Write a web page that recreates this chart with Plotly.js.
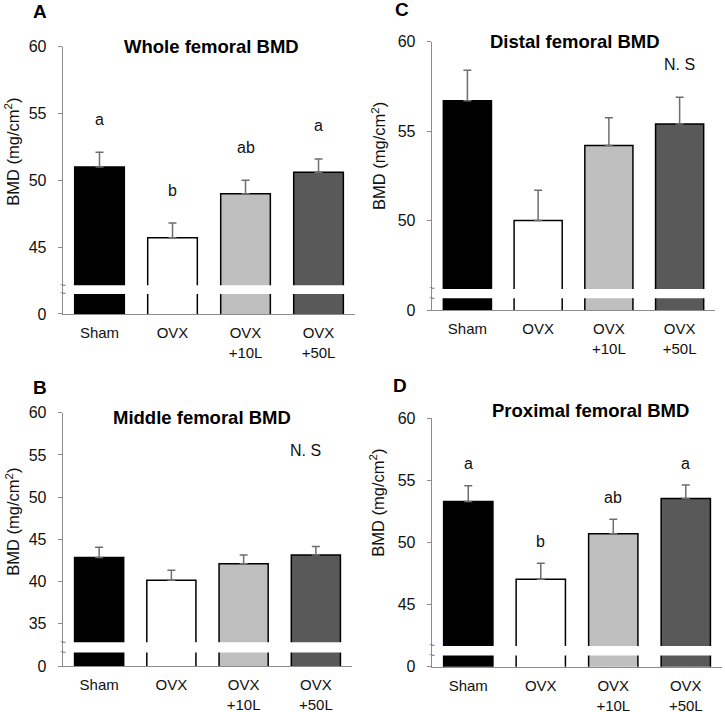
<!DOCTYPE html>
<html>
<head>
<meta charset="utf-8">
<script src="https://cdn.plot.ly/plotly-3.0.1.min.js"></script>
<style>
  body { margin: 0; background: #fff; }
  #chart { width: 725px; height: 712px; }
</style>
</head>
<body>
<div id="chart"></div>
<script>
// ==========================================
// values (mg/cm2, mean and SE)
// ==========================================
const groups = ['Sham', 'OVX', 'OVX<br>+10L', 'OVX<br>+50L']
const barColors = ['#000000', '#ffffff', '#bfbfbf', '#595959']

const wholeMean = [51.0, 45.7, 49.0, 50.6]
const wholeSE = [1.1, 1.1, 1.0, 1.0]
const wholeLetters = ['a', 'b', 'ab', 'a']

const distalMean = [56.7, 50.0, 54.2, 55.4]
const distalSE = [1.7, 1.7, 1.55, 1.5]

const middleMean = [42.85, 40.15, 42.1, 43.15]
const middleSE = [1.2, 1.2, 1.05, 1.0]

const proximalMean = [53.3, 47.05, 50.7, 53.55]
const proximalSE = [1.27, 1.29, 1.18, 1.07]
const proximalLetters = ['a', 'b', 'ab', 'a']

// ==========================================
// panel setup
// ==========================================
const panels = [
	{ tag: 'A', title: 'Whole femoral BMD', mean: wholeMean, se: wholeSE, letters: wholeLetters,
	  floor: 40, ticks: [45, 50, 55, 60], brk: [41.5, 42.15],
	  xd: [0.0869, 0.4897], yd: [0.559, 0.9344], titleX: 0.51, titleY: 1.0,
	  tagPos: [-0.079, 1.131], yTitlePos: [-0.175, 0.607], letterShift: 33 },
	{ tag: 'C', title: 'Distal femoral BMD', mean: distalMean, se: distalSE, ns: true,
	  floor: 45, ticks: [50, 55, 60], brk: [45.66, 46.18],
	  xd: [0.5959, 0.9862], yd: [0.5646, 0.9414], titleX: 0.505, titleY: 1.0,
	  tagPos: [-0.106, 1.119], yTitlePos: [-0.19, 0.575], nsY: 58.7, nsShift: 0 },
	{ tag: 'B', title: 'Middle femoral BMD', mean: middleMean, se: middleSE, ns: true,
	  floor: 30, ticks: [35, 40, 45, 50, 55, 60], brk: [31.6, 32.8],
	  xd: [0.0869, 0.4855], yd: [0.0646, 0.4204], titleX: 0.48, titleY: 0.98,
	  tagPos: [-0.08, 1.099], yTitlePos: [-0.176, 0.57], nsY: 55.5, nsShift: -10 },
	{ tag: 'D', title: 'Proximal femoral BMD', mean: proximalMean, se: proximalSE, letters: proximalLetters,
	  floor: 40, ticks: [45, 50, 55, 60], brk: [40.9, 41.67],
	  xd: [0.5959, 0.9959], yd: [0.0636, 0.4125], titleX: 0.545, titleY: 1.03,
	  tagPos: [-0.11, 1.132], yTitlePos: [-0.19, 0.66], letterShift: 22 }
]

const fontFamily = 'Liberation Sans, Arial, sans-serif'
const tickFont = { family: fontFamily, size: 16, color: '#111111' }
const catFont = { family: fontFamily, size: 15, color: '#111111' }
const axisGray = '#8c8c8c'

const data = []
const annotations = []
const shapes = []
const layout = {
	width: 725,
	height: 712,
	margin: { l: 0, r: 0, t: 0, b: 0 },
	paper_bgcolor: '#ffffff',
	plot_bgcolor: '#ffffff',
	showlegend: false,
	font: tickFont
}

panels.forEach((p, i) => {
	const n = i === 0 ? '' : String(i + 1)
	const xa = 'x' + n
	const ya = 'y' + n

	data.push({
		type: 'bar',
		x: groups,
		y: p.mean,
		xaxis: xa,
		yaxis: ya,
		width: 0.68,
		marker: { color: barColors, line: { color: '#000000', width: 1.5 } },
		error_y: {
			type: 'data',
			symmetric: false,
			array: p.se,
			arrayminus: p.se.map(() => 0),
			color: '#6e6e6e',
			thickness: 1.5,
			width: 4
		},
		hoverinfo: 'skip'
	})

	layout['xaxis' + n] = {
		domain: p.xd,
		anchor: ya,
		showline: true,
		linecolor: axisGray,
		linewidth: 1.3,
		ticks: 'outside',
		ticklen: 5,
		tickcolor: 'rgba(0,0,0,0)',
		showgrid: false,
		zeroline: false,
		tickfont: catFont,
		fixedrange: true
	}
	layout['yaxis' + n] = {
		domain: p.yd,
		anchor: xa,
		range: [p.floor, 60],
		tickvals: [p.floor].concat(p.ticks),
		ticktext: ['0'].concat(p.ticks.map(String)),
		showline: true,
		linecolor: axisGray,
		linewidth: 1.3,
		ticks: 'outside',
		ticklen: 4,
		tickcolor: axisGray,
		ticklabelstandoff: 8,
		showgrid: false,
		zeroline: false,
		tickfont: tickFont,
		fixedrange: true
	}

	// axis break: white band across the bars plus the tilde marks
	shapes.push({
		type: 'rect', layer: 'above',
		xref: xa + ' domain', yref: ya,
		x0: 0.01, x1: 1, y0: p.brk[0], y1: p.brk[1],
		fillcolor: '#ffffff', line: { width: 0 }
	})
	p.brk.forEach(v => {
		annotations.push({
			xref: xa + ' domain', yref: ya, x: 0, y: v,
			text: '~', showarrow: false, xanchor: 'center', yanchor: 'middle',
			font: { family: fontFamily, size: 10, color: '#777777' }
		})
	})

	// panel title, panel letter and y title
	annotations.push({
		xref: xa + ' domain', yref: ya + ' domain', x: p.titleX, y: p.titleY,
		text: '<b>' + p.title + '</b>', showarrow: false, xanchor: 'center', yanchor: 'middle',
		font: { family: fontFamily, size: 18.5, color: '#000000' }
	})
	annotations.push({
		xref: xa + ' domain', yref: ya + ' domain', x: p.tagPos[0], y: p.tagPos[1],
		text: '<b>' + p.tag + '</b>', showarrow: false, xanchor: 'center', yanchor: 'middle',
		font: { family: fontFamily, size: 19, color: '#000000' }
	})
	annotations.push({
		xref: xa + ' domain', yref: ya + ' domain', x: p.yTitlePos[0], y: p.yTitlePos[1],
		text: 'BMD (mg/cm<sup>2</sup>)', showarrow: false, textangle: -90,
		xanchor: 'center', yanchor: 'middle',
		font: { family: fontFamily, size: 16.5, color: '#111111' }
	})

	if (p.letters) {
		p.letters.forEach((t, k) => {
			annotations.push({
				xref: xa, yref: ya, x: groups[k], y: p.mean[k] + p.se[k],
				text: t, showarrow: false, yanchor: 'middle', yshift: p.letterShift,
				font: tickFont
			})
		})
	}
	if (p.ns) {
		annotations.push({
			xref: xa, yref: ya, x: groups[3], y: p.nsY,
			text: 'N. S', showarrow: false, yanchor: 'middle', xshift: p.nsShift,
			font: tickFont
		})
	}
})

layout.annotations = annotations
layout.shapes = shapes

Plotly.newPlot('chart', data, layout, { staticPlot: true, displayModeBar: false })
</script>
</body>
</html>
